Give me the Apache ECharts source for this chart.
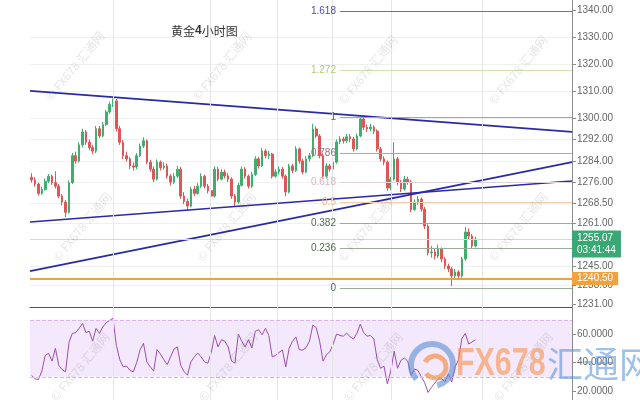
<!DOCTYPE html>
<html>
<head>
<meta charset="utf-8">
<script src="https://cdn.jsdelivr.net/npm/echarts@6/dist/echarts.min.js"></script>
<style>
  html, body { margin: 0; padding: 0; background: #fff; }
  #chart { width: 640px; height: 400px; }
</style>
</head>
<body>
<div id="chart"></div>
<script>
// Gold, 4-hour candles: [open, close, low, high]
const candles = [
  [1278.0,1277.0,1276.0,1279.5],[1277.0,1275.5,1274.5,1278.0],[1275.5,1272.0,1271.2,1276.0],[1272.0,1273.5,1271.5,1274.5],
  [1273.5,1276.5,1273.0,1277.5],[1276.5,1278.4,1275.8,1279.2],[1278.4,1276.0,1275.2,1279.0],[1276.0,1274.7,1273.8,1280.2],
  [1274.7,1271.0,1270.2,1275.5],[1271.0,1268.8,1267.5,1271.8],[1268.8,1265.0,1263.2,1269.5],[1265.0,1276.0,1264.5,1276.8],
  [1276.0,1286.0,1275.5,1287.0],[1286.0,1284.0,1283.0,1287.5],[1284.0,1290.0,1283.5,1291.0],[1290.0,1294.8,1289.0,1296.0],
  [1294.8,1291.0,1290.0,1295.5],[1291.0,1289.0,1288.0,1292.0],[1289.0,1287.7,1286.5,1290.0],[1287.7,1296.0,1287.0,1297.0],
  [1296.0,1293.3,1292.5,1297.0],[1293.3,1297.5,1292.8,1298.5],[1297.5,1302.2,1297.0,1303.0],[1302.2,1305.0,1301.5,1306.0],
  [1305.0,1306.3,1304.0,1307.2],[1306.3,1296.0,1295.0,1307.0],[1296.0,1291.0,1290.0,1297.0],[1291.0,1286.0,1284.8,1291.8],
  [1286.0,1284.8,1283.8,1287.5],[1284.8,1282.2,1281.0,1285.5],[1282.2,1281.8,1280.5,1283.5],[1281.8,1286.0,1281.0,1287.0],
  [1286.0,1289.6,1285.5,1290.5],[1289.6,1291.5,1288.8,1292.8],[1291.5,1283.6,1282.8,1292.0],[1283.6,1281.0,1280.0,1284.5],
  [1281.0,1277.3,1276.2,1282.0],[1277.3,1283.6,1276.8,1284.6],[1283.6,1281.5,1280.5,1284.2],[1281.5,1282.2,1280.8,1283.5],
  [1282.2,1278.4,1277.5,1283.0],[1278.4,1276.2,1275.0,1279.2],[1276.2,1278.4,1275.5,1279.5],[1278.4,1281.0,1277.8,1282.2],
  [1281.0,1271.0,1270.0,1281.8],[1271.0,1269.0,1268.0,1272.5],[1269.0,1267.3,1265.5,1270.0],[1267.3,1273.6,1266.8,1274.5],
  [1273.6,1272.0,1271.0,1274.8],[1272.0,1274.7,1271.5,1275.8],[1274.7,1278.4,1274.0,1279.5],[1278.4,1274.7,1273.8,1279.0],
  [1274.7,1273.0,1272.0,1275.5],[1273.0,1271.0,1270.0,1273.8],[1271.0,1281.0,1270.5,1282.0],[1281.0,1277.3,1276.5,1281.8],
  [1277.3,1279.9,1276.8,1281.0],[1279.9,1278.5,1277.5,1280.8],[1278.5,1277.3,1276.2,1279.5],[1277.3,1271.0,1270.0,1278.0],
  [1271.0,1268.8,1267.2,1271.8],[1268.8,1275.0,1268.2,1276.0],[1275.0,1281.0,1274.5,1282.0],[1281.0,1278.4,1277.5,1281.8],
  [1278.4,1274.7,1273.8,1279.0],[1274.7,1279.0,1274.0,1280.0],[1279.0,1284.8,1278.5,1285.8],[1284.8,1282.2,1281.2,1285.5],
  [1282.2,1287.7,1281.8,1288.8],[1287.7,1286.0,1285.0,1288.5],[1286.0,1286.6,1284.8,1287.8],[1286.6,1278.4,1277.5,1287.0],
  [1278.4,1280.0,1277.8,1281.0],[1280.0,1281.0,1279.0,1282.0],[1281.0,1278.4,1277.5,1281.8],[1278.4,1272.5,1271.0,1279.0],
  [1272.5,1282.2,1272.0,1283.0],[1282.2,1280.5,1279.5,1283.0],[1280.5,1288.5,1280.0,1289.5],[1288.5,1284.0,1283.0,1289.0],
  [1284.0,1279.9,1279.0,1284.8],[1279.9,1284.8,1279.5,1285.8],[1284.8,1286.0,1283.8,1287.0],[1286.0,1295.9,1285.5,1297.8],
  [1295.9,1293.3,1292.5,1296.8],[1293.3,1286.0,1285.0,1294.0],[1286.0,1278.4,1277.5,1286.8],[1278.4,1282.2,1277.8,1283.2],
  [1282.2,1281.0,1280.0,1283.0],[1281.0,1283.6,1280.5,1284.5],[1283.6,1291.1,1283.0,1292.0],[1291.1,1292.2,1290.2,1293.2],
  [1292.2,1291.5,1290.5,1293.0],[1291.5,1293.0,1290.8,1294.0],[1293.0,1292.2,1291.0,1294.0],[1292.2,1288.5,1287.5,1293.0],
  [1288.5,1293.3,1288.0,1294.2],[1293.3,1299.6,1292.8,1300.5],[1299.6,1296.5,1295.5,1300.0],[1296.5,1295.9,1294.8,1297.5],
  [1295.9,1296.6,1295.0,1297.8],[1296.6,1295.1,1294.0,1297.2],[1295.1,1288.5,1287.5,1295.8],[1288.5,1284.8,1283.8,1289.2],
  [1284.8,1283.6,1282.5,1285.8],[1283.6,1274.0,1273.0,1284.2],[1274.0,1277.3,1273.2,1278.2],[1277.3,1284.8,1276.8,1291.0],
  [1284.8,1276.2,1275.0,1285.5],[1276.2,1273.6,1272.5,1277.0],[1273.6,1277.3,1273.0,1278.5],[1277.3,1276.2,1275.2,1278.2],
  [1276.2,1266.0,1265.0,1277.0],[1266.0,1268.8,1265.5,1269.8],[1268.8,1269.9,1267.8,1271.0],[1269.9,1266.2,1265.2,1270.5],
  [1266.2,1259.9,1258.8,1267.0],[1259.9,1250.0,1249.0,1260.5],[1250.0,1250.3,1248.2,1252.5],[1250.3,1248.8,1247.5,1251.5],
  [1248.8,1251.4,1248.0,1253.0],[1251.4,1247.7,1246.5,1252.0],[1247.7,1245.1,1244.0,1248.5],[1245.1,1244.0,1242.8,1246.0],
  [1244.0,1241.4,1237.7,1244.8],[1241.4,1242.9,1240.5,1244.0],[1242.9,1241.4,1240.2,1243.5],[1241.4,1247.7,1240.8,1248.5],
  [1247.7,1257.7,1247.0,1259.6],[1257.7,1256.2,1255.0,1259.0],[1256.2,1252.5,1251.5,1257.0],[1252.5,1255.07,1252.0,1256.0]
];

// RSI per candle
const rsiValues = [
  31,28.5,28,34,45,46.5,41,50,38,35,33.5,54,60.5,61,64,67.5,61,62,55,64,
  60.5,65,68,69.5,71.2,52,42,37,37.5,34.5,33.5,40,49,53.5,40.5,37,34,49,46,42,
  38.5,44,49.5,51,38,33.5,31.2,40.5,44,46.7,44,40.5,39.5,47,59,51,56,55,51,41,
  39.6,60,55,51,56,50.2,62,63,59.5,64,59,44,45,47,48.8,37,50,55,58,49,
  48.8,50.5,55,66.3,64.5,55,41,45.5,47.5,53,60,59,58.5,60.7,58,56.5,60.5,67,61,58.5,
  59,56.5,42,36,37.5,25,34,48,36,41.5,43.2,41,31,35.5,34.5,30,26,19,22.5,25.6,
  28.5,28.5,26.5,32,26.3,37,42,57,60.5,53,54.5,56
];

const priceTicks = [1340, 1330, 1320, 1310, 1300, 1292, 1284, 1276, 1268.5, 1261, 1245, 1238, 1231];
const rsiTicks = [20, 40, 60];
const rsiBand = [30, 70];

// Fibonacci retracement anchored on the swing low / swing high
const fibRatios = [1.618, 1.272, 1, 0.786, 0.618, 0.5, 0.382, 0.236, 0];
const fibLow = 1236.9;
const fibHigh = 1300.3;
const fibStartSlot = 91.5;

// Trend channel lines: [slot, price] pairs
const trendLines = [
  [[0, 1310.0], [160, 1294.8]],
  [[0, 1261.4], [160, 1276.6]],
  [[0, 1243.2], [160, 1283.6]]
];

const supportLevel = 1240.5;
const lastPrice = 1255.07;
const countdown = '03:41:44';
const slotCount = 160;
// slot boundaries where a new session starts
const sessionBreaks = [24.5, 53.3, 73, 89.2, 106.6, 133.4];

const slots = Array.from({ length: slotCount }, (_, i) => String(i));

const fibStyle = {
  1.618: { line: '#6c6cba', text: '#4b4ba0' },
  1.272: { line: '#d3e3a6', text: '#b3c972' },
  1:     { line: '#a6a6a6', text: '#666' },
  0.786: { line: '#ada6ad', text: '#8d7581' },
  0.618: { line: '#ddd2d8', text: '#d6b6bf' },
  0.5:   { line: '#f6ccaa', text: '#eeb68c' },
  0.382: { line: '#9cac9c', text: '#4f6c4f' },
  0.236: { line: '#9cac9c', text: '#4f6c4f' },
  0:     { line: '#9cac9c', text: '#4f6c4f' }
};

const fibLines = fibRatios.map(r => {
  const v = fibLow + r * (fibHigh - fibLow);
  const s = fibStyle[r];
  return [
    { coord: [fibStartSlot, v], lineStyle: { color: s.line, width: 1, type: 'solid' },
      label: { show: true, position: 'start', distance: 4, formatter: String(r), color: s.text,
               fontSize: 10, fontFamily: 'Liberation Sans' } },
    { coord: [slotCount, v] }
  ];
});

const levelLines = [
  [
    { coord: [0, lastPrice], lineStyle: { color: '#c3e2d0', width: 1, type: 'solid' },
      label: { show: true, position: 'end', distance: 0,
               formatter: '{a|' + lastPrice.toFixed(2) + '}\n{a|' + countdown + '}',
               backgroundColor: '#3aa874', padding: [2, 5, 1, 5], offset: [0, 5],
               rich: { a: { color: '#fff', fontSize: 10, lineHeight: 12, fontFamily: 'Liberation Sans' } } } },
    { coord: [slotCount, lastPrice] }
  ],
  [
    { coord: [0, supportLevel], lineStyle: { color: '#f3a13c', width: 2, type: 'solid' },
      label: { show: true, position: 'end', distance: 0, formatter: supportLevel.toFixed(2),
               backgroundColor: '#f3a13c', color: '#fff', padding: [2, 5, 1, 5],
               fontSize: 10, fontFamily: 'Liberation Sans' } },
    { coord: [slotCount, supportLevel] }
  ]
];

const trendSeries = trendLines.map((pts, k) => ({
  type: 'line',
  xAxisIndex: 2,
  yAxisIndex: 0,
  data: pts,
  symbol: 'none',
  silent: true,
  z: 4,
  lineStyle: { color: '#2a2aa6', width: 1.6 },
  markLine: k === 0 ? {
    silent: true,
    symbol: 'none',
    animation: false,
    data: fibLines.concat(levelLines)
  } : undefined
}));

// session separators, one carrier series per panel
const sessionSeries = [2, 3].map(ax => ({
  type: 'line',
  xAxisIndex: ax,
  yAxisIndex: ax === 2 ? 0 : 1,
  data: [],
  z: 1,
  silent: true,
  markLine: {
    silent: true, symbol: 'none', animation: false, label: { show: false },
    lineStyle: { color: '#e6e6e6', type: 'solid', width: 1 },
    data: sessionBreaks.map(b => ({ xAxis: b }))
  }
}));

// Faint diagonal watermark stamps
const stampCenters = [
  [75, 66], [222, 66], [368, 70], [518, 70],
  [82, 227], [226, 227], [368, 227], [518, 227],
  [80, 367], [228, 367], [373, 367], [523, 367]
];
const stamps = stampCenters.map(([x, y]) => ({
  type: 'text', x, y, rotation: 0.88, z: 20, silent: true,
  style: { text: '© FX678 汇通网', fill: 'rgba(0,0,0,0.11)', fontSize: 12,
           fontFamily: 'Noto Sans CJK SC', align: 'center', verticalAlign: 'middle' }
}));

const logo = [
  { type: 'arc', z: 21, silent: true, shape: { cx: 432, cy: 365, r: 21, startAngle: 2.4, endAngle: 7.6 },
    style: { stroke: 'rgba(90,140,210,0.6)', lineWidth: 6, fill: null } },
  { type: 'arc', z: 21, silent: true, shape: { cx: 435, cy: 367, r: 11, startAngle: 3.6, endAngle: 8.8 },
    style: { stroke: 'rgba(245,140,60,0.65)', lineWidth: 5, fill: null } },
  { type: 'text', x: 456, y: 364, scaleX: 0.78, z: 21, silent: true,
    style: { text: 'FX678', fill: 'rgba(246,146,72,0.6)', fontSize: 39, fontWeight: 'bold',
             fontFamily: 'Liberation Sans', align: 'left', verticalAlign: 'middle' } },
  { type: 'text', x: 547, y: 364, z: 21, silent: true,
    style: { text: '汇通网', fill: 'rgba(80,140,215,0.55)', fontSize: 36,
             fontFamily: 'Noto Sans CJK SC', align: 'left', verticalAlign: 'middle' } }
];

const chart = echarts.init(document.getElementById('chart'), null, { renderer: 'canvas' });

const bareCategory = grid => ({
  type: 'category', gridIndex: grid, data: slots, boundaryGap: true,
  axisLine: { onZero: false, lineStyle: { color: '#555' } }, axisTick: { show: false }, axisLabel: { show: false },
  splitLine: { show: false }
});

chart.setOption({
  animation: false,
  backgroundColor: '#fff',
  title: {
    text: '黄金{b|4}小时图',
    left: 166, top: 20,
    textStyle: {
      fontSize: 12, fontWeight: 'normal', color: '#333', fontFamily: 'Noto Sans CJK SC',
      rich: { b: { fontSize: 12, fontWeight: 'bold', color: '#333', fontFamily: 'Liberation Sans' } }
    }
  },
  grid: [
    { left: 30, right: 68, top: 0, height: 307 },
    { left: 30, right: 68, top: 307, height: 93 }
  ],
  xAxis: [
    bareCategory(0),
    bareCategory(1),
    { type: 'value', gridIndex: 0, min: 0, max: slotCount, show: false },
    { type: 'value', gridIndex: 1, min: 0, max: slotCount, show: false }
  ],
  yAxis: [
    { type: 'value', gridIndex: 0, position: 'right', min: 1229.9, max: 1343.7, scale: true,
      axisLine: { show: true, onZero: false, lineStyle: { color: '#8c8c8c' } },
      axisTick: { show: true, length: 4, customValues: priceTicks, lineStyle: { color: '#8c8c8c' } },
      axisLabel: { customValues: priceTicks, formatter: v => Number(v).toFixed(2), fontSize: 10,
                   color: '#666', margin: 5, fontFamily: 'Liberation Sans' },
      splitLine: { show: true, showMinLine: false, showMaxLine: false, lineStyle: { color: '#f0f0f0' } } },
    { type: 'value', gridIndex: 1, position: 'right', min: 13.7, max: 79, scale: true,
      axisLine: { show: true, onZero: false, lineStyle: { color: '#8c8c8c' } },
      axisTick: { show: true, length: 4, customValues: rsiTicks, lineStyle: { color: '#8c8c8c' } },
      axisLabel: { customValues: rsiTicks, formatter: v => Number(v).toFixed(4), fontSize: 10,
                   color: '#666', margin: 5, fontFamily: 'Liberation Sans' },
      splitLine: { show: false } }
  ],
  graphic: stamps.concat(logo),
  series: [
    ...sessionSeries,
    {
      type: 'candlestick',
      xAxisIndex: 0, yAxisIndex: 0,
      data: candles,
      barWidth: '62%',
      z: 3,
      itemStyle: {
        color: '#3fae6f', color0: '#dc5858',
        borderColor: '#3fae6f', borderColor0: '#dc5858', borderWidth: 1
      }
    },
    ...trendSeries,
    {
      type: 'line',
      xAxisIndex: 1, yAxisIndex: 1,
      data: rsiValues,
      symbol: 'none',
      z: 3,
      lineStyle: { color: '#9b4fac', width: 1 },
      markArea: {
        silent: true,
        itemStyle: { color: 'rgba(222,186,246,0.32)' },
        data: [[{ yAxis: rsiBand[1] }, { yAxis: rsiBand[0] }]]
      },
      markLine: {
        silent: true, symbol: 'none', label: { show: false },
        lineStyle: { color: '#dbb6ec', type: 'dashed', width: 1 },
        data: rsiBand.map(v => ({ yAxis: v }))
      }
    }
  ]
});
</script>
</body>
</html>
